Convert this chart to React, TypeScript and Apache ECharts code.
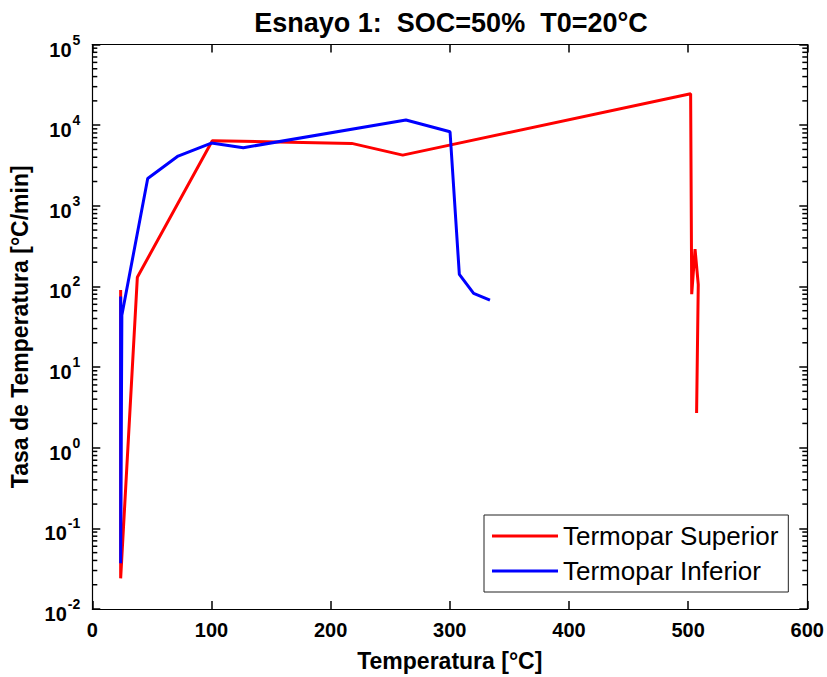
import React, { useEffect, useRef } from "react";
import * as echarts from "echarts";

// Termopar Superior (red): [temperature °C, rate °C/min]
const superiorTemp = [23.8, 23.8, 37.8, 100.7, 217.7, 260.5, 502.1, 503.0, 505.8, 508.5, 507.1];
const superiorRate = [90, 0.024, 130, 6400, 5940, 4250, 24500, 80, 290, 105, 2.7];

// Termopar Inferior (blue)
const inferiorTemp = [23.8, 23.8, 24.8, 46.5, 72.0, 99.9, 126.7, 263.2, 300.2, 308.0, 320.0, 333.7];
const inferiorRate = [75, 0.037, 44, 2180, 4140, 6000, 5250, 11560, 8280, 141, 82, 67.6];

const seriesNames = ["Termopar Superior", "Termopar Inferior"];
const xTicks = [0, 100, 200, 300, 400, 500, 600];
const yDecadeExponents = [-2, -1, 0, 1, 2, 3, 4, 5];
const minorMultipliers = [2, 3, 4, 5, 6, 7, 8, 9];

const FONT = "'Liberation Sans', Arial, Helvetica, sans-serif";

export default function App() {
  const ref = useRef<HTMLDivElement>(null);

  useEffect(() => {
    if (!ref.current) return;
    const chart = echarts.init(ref.current, null, { renderer: "svg" });

    const yMin = Math.pow(10, yDecadeExponents[0]);
    const yMax = Math.pow(10, yDecadeExponents[yDecadeExponents.length - 1]);
    const xMin = xTicks[0];
    const xMax = xTicks[xTicks.length - 1];

    const minorValues: number[][] = [];
    for (let i = 0; i < yDecadeExponents.length - 1; i++) {
      for (const m of minorMultipliers) {
        minorValues.push([xMin, m * Math.pow(10, yDecadeExponents[i])]);
      }
    }

    const axisLineColor = "#000";
    const axisLine = { show: true, onZero: false, lineStyle: { color: axisLineColor, width: 1.2 } };
    const axisTick = { show: true, inside: true, length: 8, lineStyle: { color: axisLineColor, width: 1.5 } };

    const yLabel = {
      show: true,
      margin: 12,
      formatter: (v: number) => `{b|10}{s|${Math.round(Math.log10(v))}}`,
      rich: {
        b: {
          fontSize: 20,
          fontWeight: "bold",
          fontFamily: FONT,
          color: "#000",
          lineHeight: 20,
          padding: [10, 0, 0, 0],
        },
        s: {
          fontSize: 14,
          fontWeight: "bold",
          fontFamily: FONT,
          color: "#000",
          lineHeight: 14,
          padding: [3, 0, 13, 1],
        },
      },
    };

    chart.setOption({
      animation: false,
      backgroundColor: "#fff",
      title: {
        text: "Esnayo 1:  SOC=50%  T0=20°C",
        left: 446,
        textAlign: "center",
        top: 4,
        textStyle: { fontSize: 27, fontWeight: "bold", fontFamily: FONT, color: "#000" },
      },
      grid: { left: 92.3, right: 19.7, top: 44.5, bottom: 68, containLabel: false },
      legend: {
        data: seriesNames,
        orient: "vertical",
        left: 484,
        top: 515,
        padding: [8, 10, 8, 8],
        itemGap: 9,
        itemWidth: 66,
        itemHeight: 3,
        icon: "rect",
        borderColor: "#222",
        borderWidth: 1,
        backgroundColor: "#fff",
        textStyle: { fontSize: 26, fontFamily: FONT, color: "#000" },
      },
      xAxis: [
        {
          type: "value",
          min: xMin,
          max: xMax,
          interval: 100,
          position: "bottom",
          name: "Temperatura [°C]",
          nameLocation: "middle",
          nameGap: 40,
          nameTextStyle: { fontSize: 23, fontWeight: "bold", fontFamily: FONT, color: "#000" },
          axisLine,
          axisTick,
          axisLabel: { fontSize: 20, fontWeight: "bold", fontFamily: FONT, color: "#000", margin: 11 },
          splitLine: { show: false },
        },
        {
          type: "value",
          min: xMin,
          max: xMax,
          interval: 100,
          position: "top",
          axisLine,
          axisTick,
          axisLabel: { show: false },
          splitLine: { show: false },
        },
      ],
      yAxis: [
        {
          type: "log",
          logBase: 10,
          min: yMin,
          max: yMax,
          interval: 1,
          position: "left",
          name: "Tasa de Temperatura [°C/min]",
          nameLocation: "middle",
          nameGap: 61,
          nameTextStyle: { fontSize: 23, fontWeight: "bold", fontFamily: FONT, color: "#000" },
          axisLine,
          axisTick,
          axisLabel: yLabel,
          splitLine: { show: false },
        },
        {
          type: "log",
          logBase: 10,
          min: yMin,
          max: yMax,
          interval: 1,
          position: "right",
          axisLine,
          axisTick,
          axisLabel: { show: false },
          splitLine: { show: false },
        },
      ],
      series: [
        {
          type: "custom",
          silent: true,
          xAxisIndex: 0,
          yAxisIndex: 0,
          clip: false,
          z: 5,
          encode: { x: 0, y: 1 },
          data: minorValues,
          renderItem: (params: any, api: any) => {
            const y = api.value(1);
            const pL = api.coord([xMin, y]);
            const pR = api.coord([xMax, y]);
            const st = { stroke: axisLineColor, lineWidth: 1.5 };
            return {
              type: "group",
              children: [
                { type: "line", shape: { x1: pL[0], y1: pL[1], x2: pL[0] + 5, y2: pL[1] }, style: st },
                { type: "line", shape: { x1: pR[0] - 5, y1: pR[1], x2: pR[0], y2: pR[1] }, style: st },
              ],
            };
          },
        },
        {
          name: seriesNames[0],
          type: "line",
          xAxisIndex: 0,
          yAxisIndex: 0,
          symbol: "none",
          lineStyle: { color: "#ff0000", width: 3 },
          itemStyle: { color: "#ff0000" },
          data: superiorTemp.map((t, i) => [t, superiorRate[i]]),
        },
        {
          name: seriesNames[1],
          type: "line",
          xAxisIndex: 0,
          yAxisIndex: 0,
          symbol: "none",
          lineStyle: { color: "#0000ff", width: 3 },
          itemStyle: { color: "#0000ff" },
          data: inferiorTemp.map((t, i) => [t, inferiorRate[i]]),
        },
      ],
    });

    return () => chart.dispose();
  }, []);

  return (
    <div
      ref={ref}
      style={{ position: "fixed", left: 0, top: 0, width: 827, height: 677, background: "#fff" }}
    />
  );
}
